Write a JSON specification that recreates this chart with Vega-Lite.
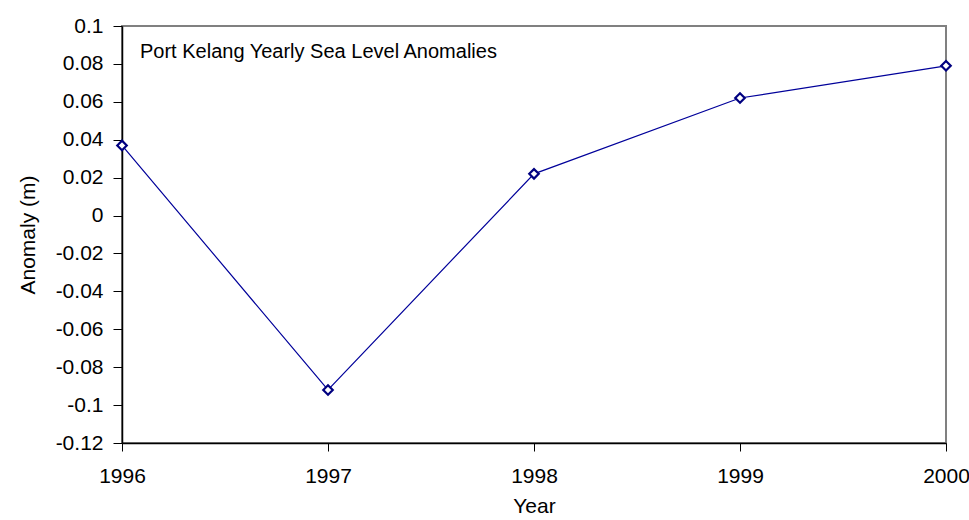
{
  "$schema": "https://vega.github.io/schema/vega-lite/v6.json",
  "width": 824,
  "height": 417,
  "autosize": "none",
  "padding": {"left": 122, "top": 26, "right": 23, "bottom": 77},
  "background": "white",
  "config": {
    "view": {"stroke": "#808080", "strokeWidth": 2},
    "font": "Liberation Sans"
  },
  "data": {
    "values": [
      {"year": 1996, "anomaly": 0.037},
      {"year": 1997, "anomaly": -0.092},
      {"year": 1998, "anomaly": 0.022},
      {"year": 1999, "anomaly": 0.062},
      {"year": 2000, "anomaly": 0.079}
    ]
  },
  "encoding": {
    "x": {
      "field": "year", "type": "quantitative",
      "scale": {"domain": [1996, 2000], "nice": false, "zero": false},
      "axis": {
        "title": "Year", "values": [1996, 1997, 1998, 1999, 2000], "format": "d",
        "labelOverlap": false, "labelBound": false, "labelFlush": false,
        "grid": false, "domainColor": "#000", "domainWidth": 1.5, "tickColor": "#000", "tickSize": 8,
        "labelFont": "Liberation Sans", "labelFontSize": 21, "labelColor": "#000", "labelPadding": 14,
        "titleFont": "Liberation Sans", "titleFontSize": 21, "titleFontWeight": "normal", "titleColor": "#000", "titlePadding": 9
      }
    },
    "y": {
      "field": "anomaly", "type": "quantitative",
      "scale": {"domain": [-0.12, 0.1], "nice": false},
      "axis": {
        "title": "Anomaly (m)", "values": [-0.12, -0.1, -0.08, -0.06, -0.04, -0.02, 0, 0.02, 0.04, 0.06, 0.08, 0.1],
        "labelExpr": "datum.value + ''",
        "labelOverlap": false, "labelBound": false, "labelFlush": false,
        "grid": false, "domainColor": "#000", "domainWidth": 1.5, "tickColor": "#000", "tickSize": 9,
        "labelFont": "Liberation Sans", "labelFontSize": 21, "labelColor": "#000", "labelPadding": 10,
        "titleFont": "Liberation Sans", "titleFontSize": 21, "titleFontWeight": "normal", "titleColor": "#000", "titlePadding": 17
      }
    }
  },
  "layer": [
    {
      "mark": {"type": "line", "color": "#00009A", "strokeWidth": 1.2, "point": {"shape": "diamond", "filled": false, "fill": "white", "stroke": "#000080", "strokeWidth": 2.2, "size": 90}}
    },
    {
      "data": {"values": [{"label": "Port Kelang Yearly Sea Level Anomalies", "year": 1996, "anomaly": 0.0865}]},
      "mark": {"type": "text", "align": "left", "baseline": "middle", "dx": 18, "font": "Liberation Sans", "fontSize": 20, "color": "#000"},
      "encoding": {
        "text": {"field": "label"}
      }
    }
  ]
}
